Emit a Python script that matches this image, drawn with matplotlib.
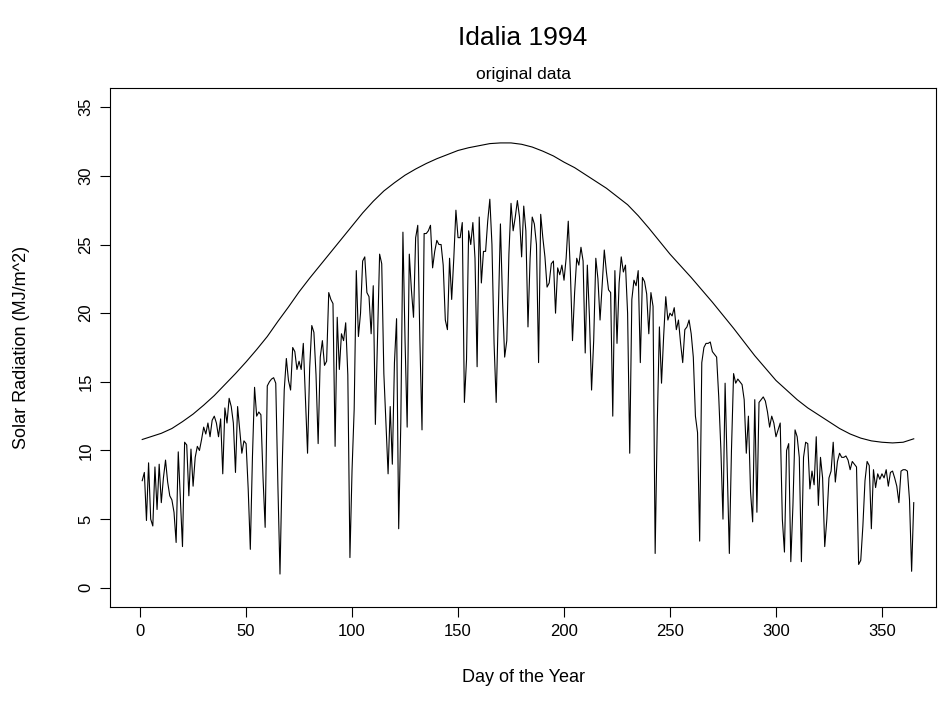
import matplotlib
matplotlib.use("Agg")
import matplotlib.pyplot as plt

plt.rcParams['font.family'] = ['Liberation Sans', 'DejaVu Sans']

# daily solar radiation, Idalia 1994
radiation = [
    7.8, 8.4, 4.9, 9.1, 5.0, 4.5, 8.8, 5.7, 9.0, 6.2,
    8.0, 9.3, 7.7, 6.7, 6.4, 5.5, 3.3, 9.9, 6.5, 3.0,
    10.6, 10.4, 6.7, 10.1, 7.4, 9.5, 10.3, 10.0, 10.8, 11.7,
    11.2, 12.0, 11.0, 12.2, 12.5, 12.0, 11.0, 12.3, 8.3, 13.1,
    12.0, 13.8, 13.2, 12.0, 8.4, 13.2, 11.5, 9.8, 10.7, 10.5,
    7.2, 2.8, 9.5, 14.6, 12.5, 12.8, 12.6, 8.0, 4.4, 14.7,
    15.0, 15.2, 15.3, 14.9, 7.5, 1.0, 8.6, 14.4, 16.7, 15.1,
    14.4, 17.5, 17.2, 15.9, 16.5, 15.9, 17.8, 13.9, 9.8, 16.0,
    19.1, 18.6, 15.5, 10.5, 16.8, 18.0, 16.2, 16.5, 21.5, 21.0,
    20.7, 10.3, 19.7, 15.9, 18.5, 18.0, 19.3, 15.5, 2.2, 8.6,
    13.0, 23.1, 18.3, 20.0, 23.8, 24.1, 21.5, 21.2, 18.5, 22.0,
    11.9, 18.0, 24.3, 23.6, 15.6, 12.0, 8.3, 13.2, 9.0, 16.4,
    19.6, 4.3, 12.0, 25.9, 18.0, 11.7, 24.3, 21.7, 19.7, 25.5,
    26.4, 18.0, 11.5, 25.8, 25.8, 26.0, 26.4, 23.3, 24.5, 25.3,
    25.0, 25.0, 23.5, 19.5, 18.8, 24.0, 21.0, 24.0, 27.5, 25.5,
    25.5, 26.6, 13.5, 16.6, 26.0, 25.0, 26.6, 24.0, 16.1, 27.0,
    22.2, 24.5, 24.5, 26.7, 28.3, 25.0, 17.8, 13.5, 20.0, 26.5,
    20.9, 16.8, 18.0, 24.3, 28.0, 26.0, 27.0, 28.2, 27.0, 24.1,
    27.8, 26.0, 19.0, 24.0, 27.0, 26.5, 25.0, 16.4, 27.2, 25.5,
    24.1, 21.9, 22.2, 23.6, 23.8, 20.0, 23.3, 22.8, 23.5, 22.4,
    24.0, 26.7, 23.0, 18.0, 21.5, 24.0, 23.5, 24.8, 23.8, 17.1,
    23.5, 19.7, 14.4, 18.0, 24.0, 22.5, 19.5, 22.0, 24.6, 23.0,
    21.7, 21.5, 12.5, 23.1, 17.8, 22.2, 24.1, 23.0, 23.5, 20.0,
    9.8, 21.0, 22.4, 22.0, 23.1, 16.4, 22.6, 22.3, 21.4, 18.5,
    21.5, 20.5, 2.5, 12.0, 19.0, 14.9, 18.3, 21.2, 19.5, 20.0,
    19.8, 20.4, 18.8, 19.5, 17.8, 16.4, 18.8, 19.0, 19.5, 18.5,
    16.8, 12.5, 11.3, 3.4, 16.4, 17.5, 17.8, 17.8, 17.9, 17.2,
    17.0, 16.8, 13.9, 10.1, 5.0, 14.9, 8.8, 2.5, 10.0, 15.6,
    14.9, 15.2, 15.0, 14.8, 13.7, 9.8, 12.5, 7.0, 4.8, 13.7,
    5.5, 13.5, 13.7, 13.9, 13.6, 12.8, 11.7, 12.5, 12.0, 11.0,
    11.5, 12.0, 5.0, 2.6, 10.0, 10.5, 1.9, 6.0, 11.5, 11.0,
    9.5, 1.9, 9.5, 10.6, 10.5, 7.2, 8.5, 7.5, 11.0, 6.0,
    9.5, 8.0, 3.0, 5.0, 8.0, 8.5, 10.6, 7.7, 9.2, 9.8,
    9.5, 9.5, 9.6, 9.3, 8.6, 9.2, 9.0, 8.8, 1.7, 2.0,
    4.5, 7.8, 9.2, 8.9, 4.3, 8.6, 7.3, 8.3, 7.9, 8.3,
    8.0, 8.6, 7.4, 8.4, 8.5, 8.0, 7.4, 6.2, 8.5, 8.6,
    8.6, 8.5, 6.4, 1.2, 6.2,
]
days = list(range(1, len(radiation) + 1))

# upper envelope (clear-sky curve), read every 5 days
curve_days = [1, 5, 10, 15, 20, 25, 30, 35, 40, 45, 50, 55, 60, 65, 70, 75,
              80, 85, 90, 95, 100, 105, 110, 115, 120, 125, 130, 135, 140,
              145, 150, 155, 160, 165, 170, 175, 180, 185, 190, 195, 200,
              205, 210, 215, 220, 225, 230, 235, 240, 245, 250, 255, 260,
              265, 270, 275, 280, 285, 290, 295, 300, 305, 310, 315, 320,
              325, 330, 335, 340, 345, 350, 355, 360, 365]
curve_vals = [10.8, 11.0, 11.25, 11.6, 12.1, 12.65, 13.3, 14.0, 14.8, 15.6,
              16.45, 17.35, 18.3, 19.4, 20.45, 21.55, 22.55, 23.5, 24.45,
              25.4, 26.35, 27.3, 28.15, 28.9, 29.5, 30.05, 30.5, 30.9, 31.25,
              31.55, 31.85, 32.05, 32.2, 32.35, 32.4, 32.4, 32.3, 32.1, 31.8,
              31.45, 31.0, 30.6, 30.1, 29.6, 29.1, 28.5, 27.9, 27.1, 26.2,
              25.25, 24.3, 23.45, 22.6, 21.7, 20.8, 19.85, 18.9, 17.9, 16.9,
              16.0, 15.1, 14.4, 13.7, 13.1, 12.6, 12.1, 11.6, 11.2, 10.9,
              10.7, 10.6, 10.55, 10.6, 10.85]

xticks = [0, 50, 100, 150, 200, 250, 300, 350]
yticks = [0, 5, 10, 15, 20, 25, 30, 35]

W, H = 938, 719
fig = plt.figure(figsize=(W / 100, H / 100), dpi=100)
ax = fig.add_axes([110 / W, 1 - 607 / H, (936 - 110) / W, (607 - 88) / H])

ax.plot(days, radiation, color='black', lw=0.8)
ax.plot(curve_days, curve_vals, color='black', lw=0.8)

ax.set_xlim(-14.2, 375.5)
ax.set_ylim(-1.4, 36.4)
ax.set_xticks(xticks)
ax.set_yticks(yticks)
ax.set_yticklabels([str(v) for v in yticks], rotation=90, va='center')
ax.tick_params(direction='out', length=7, width=0.8, labelsize=12, pad=5,
               colors='black')
for s in ax.spines.values():
    s.set_linewidth(0.8)

fig.text(523 / W, 1 - 38 / H, 'Idalia 1994', ha='center', va='center', fontsize=19)
fig.text(523 / W, 1 - 74 / H, 'original data', ha='center', va='center', fontsize=12.5)
fig.text(523 / W, 1 - 677 / H, 'Day of the Year', ha='center', va='center', fontsize=13)
fig.text(22 / W, 1 - 347 / H, 'Solar Radiation (MJ/m^2)', ha='center', va='center',
         rotation=90, fontsize=13)

fig.savefig('out.png', dpi=100)
